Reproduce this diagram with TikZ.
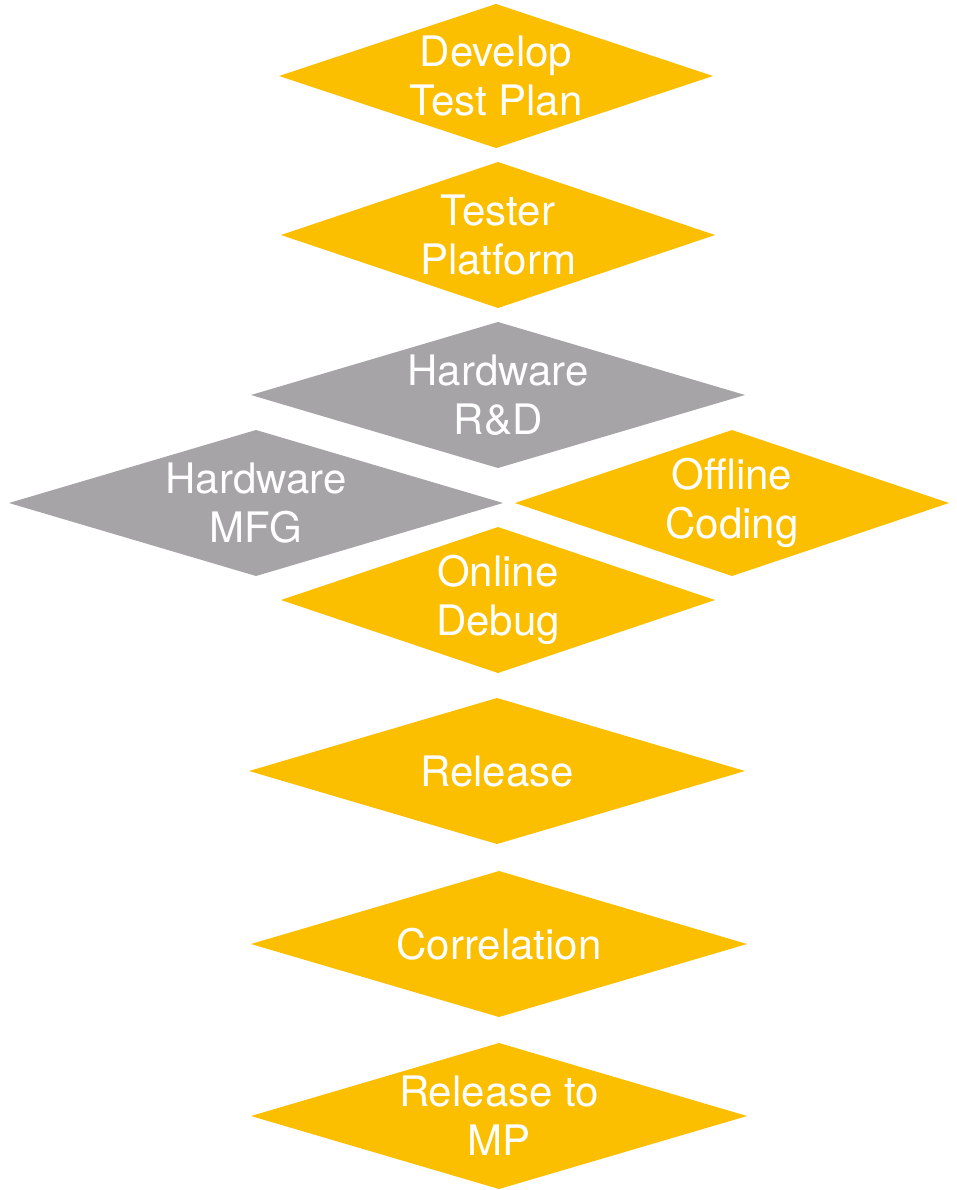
\documentclass[tikz,border=0pt]{standalone}
\usepackage{fontspec}
\setmainfont{TeX Gyre Heros}
\definecolor{gold}{HTML}{FBBF00}
\definecolor{stone}{HTML}{A6A4A6}
\tikzset{lbl/.style={text=white,align=center,inner sep=0pt,font=\fontsize{42}{49}\selectfont}}
\newcommand\diam[7]{%
  \fill[#6] (#2-#4,#3) -- (#2,#3-#5) -- (#2+#4,#3) -- (#2,#3+#5) -- cycle;
  \node[lbl] (#1) at (#2,#3) {#7};}
\begin{document}
\begin{tikzpicture}[x=1pt,y=-1pt]
\useasboundingbox[fill=white] (0,0) rectangle (956,1190);
\diam{dev}{496}{76}{217}{72}{gold}{Develop\\Test Plan}
\diam{tester}{498}{235}{217}{73}{gold}{Tester\\Platform}
\diam{hwrd}{498}{395}{247}{73}{stone}{Hardware\\R\&D}
\diam{hwmfg}{256}{503}{247}{73}{stone}{Hardware\\MFG}
\diam{offline}{732}{503}{217}{73}{gold}{Offline\\Coding}
\diam{online}{498}{600}{217}{73}{gold}{Online\\Debug}
\diam{release}{497}{771}{248}{73}{gold}{Release}
\diam{corr}{499}{944}{248}{73}{gold}{Correlation}
\diam{mp}{499}{1116}{248}{73}{gold}{Release to\\MP}
\end{tikzpicture}
\end{document}
